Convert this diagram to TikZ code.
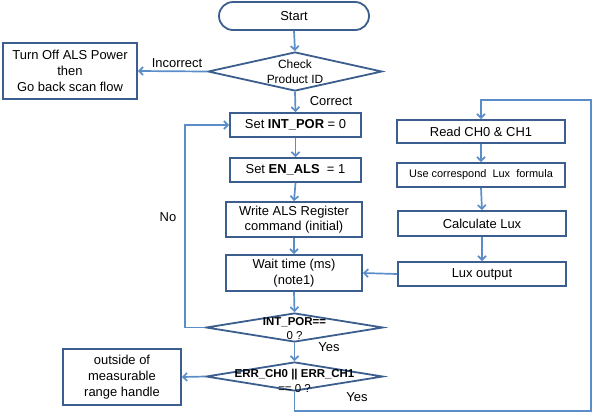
\documentclass[tikz,border=0pt]{standalone}
\usepackage{fontspec}
\setmainfont{Liberation Sans}
\usetikzlibrary{shapes.geometric,arrows.meta}
\definecolor{outl}{HTML}{3B5E8E}
\definecolor{arr}{HTML}{5B8DC9}
\begin{document}
\begin{tikzpicture}[x=1bp,y=-1bp,
  box/.style={draw=outl, line width=1.8bp, inner sep=1bp, align=center,
    font=\fontsize{13}{16}\selectfont},
  dia/.style={draw=outl, line width=1.8bp, shape=diamond, inner sep=0pt},
  dtext/.style={align=center, inner sep=0pt},
  lbl/.style={inner sep=0pt, font=\fontsize{13}{16}\selectfont},
  flow/.style={draw=arr, line width=1.7bp, -{Straight Barb[length=4bp,width=8bp]}},
  plain/.style={draw=arr, line width=1.7bp}]
\useasboundingbox (0,0) rectangle (593,413);
% left column
\node[box, minimum width=150bp, minimum height=28bp, rounded corners=14bp] (start) at (294,16) {Start};
\node[dia, minimum width=174bp, minimum height=39bp] (d1) at (295,71.5) {};
\node[dtext, font=\fontsize{12}{15}\selectfont] (d1t) at (295,72) {Check\\Product ID};
\node[box, minimum width=134bp, minimum height=56bp] (off) at (70,71) {Turn Off ALS Power\\then\\Go back scan flow};
\node[box, minimum width=131bp, minimum height=24bp] (por) at (295.5,125) {Set \textbf{INT\_POR} = 0};
\node[box, minimum width=131bp, minimum height=24bp] (als) at (295.5,170) {Set \textbf{EN\_ALS}~ = 1};
\node[box, minimum width=136bp, minimum height=35bp, font=\fontsize{13}{15}\selectfont] (write) at (294,219.5) {Write ALS Register\\command (initial)};
\node[box, minimum width=136bp, minimum height=36bp] (wait) at (294,273) {Wait time (ms)\\(note1)};
\node[dia, minimum width=177bp, minimum height=29bp] (d2) at (294.5,327.5) {};
\node[dtext, font=\fontsize{11.5}{13.5}\selectfont] (d2t) at (294.5,328.5) {\textbf{INT\_POR==}\\0 ?};
\node[dia, minimum width=177bp, minimum height=29bp] (d3) at (294.5,376.5) {};
\node[dtext, font=\fontsize{11.5}{15}\selectfont] (d3t) at (294.5,380.5) {\textbf{ERR\_CH0 || ERR\_CH1}\\== 0 ?};
\node[box, minimum width=118bp, minimum height=56bp] (out) at (122,377) {outside of\\measurable\\range handle};
% right column
\node[box, minimum width=168bp, minimum height=23bp] (read) at (481,131.5) {Read CH0 \& CH1};
\node[box, minimum width=168bp, minimum height=24bp, font=\fontsize{11}{13}\selectfont] (use) at (481,175) {Use correspond~ Lux~ formula};
\node[box, minimum width=168bp, minimum height=25bp] (calc) at (482,223.5) {Calculate Lux};
\node[box, minimum width=168bp, minimum height=24bp] (lux) at (482,274) {Lux output};
% labels
\node[lbl] (lincorrect) at (177,63) {Incorrect};
\node[lbl] (lcorrect) at (331,101) {Correct};
\node[lbl] (lno) at (168,217) {No};
\node[lbl] (lyes1) at (329,347) {Yes};
\node[lbl] (lyes2) at (357,397) {Yes};
% loop coordinates
\coordinate (lt) at (591,100);
\coordinate (lbr) at (591,411);
% connectors
\draw[flow] (start.south) -- (d1.north);
\draw[flow] (d1.west) -- (off.east);
\draw[flow] (d1.south) -- (por.north);
\draw[flow] (por.south) -- (als.north);
\draw[flow] (als.south) -- (write.north);
\draw[flow] (write.south) -- (wait.north);
\draw[flow] (wait.south) -- (d2.north);
\draw[flow] (d2.west) -- ++(-20,0) |- (por.west);
\draw[flow] (d2.south) -- (d3.north);
\draw[flow] (d3.west) -- (out.east);
\draw[flow] (d3.south) |- (lbr) -- (lt) -| (read.north);
\draw[flow] (read.south) -- (use.north);
\draw[flow] (use.south) -- (calc.north);
\draw[flow] (calc.south) -- (lux.north);
\draw[flow] (lux.west) -- (wait.east);
\end{tikzpicture}
\end{document}
